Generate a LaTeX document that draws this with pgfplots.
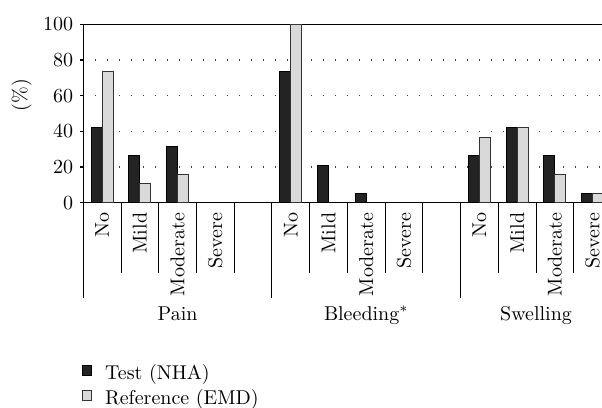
\documentclass[border=0pt]{standalone}
\usepackage{pgfplots}
\pgfplotsset{compat=1.18}
\definecolor{testc}{HTML}{232323}
\definecolor{refc}{HTML}{D9D9D9}
\pgfplotsset{sqlegend/.style={legend image code/.code={\draw[##1,line width=0.5pt] (0pt,-0.6pt) rectangle (4.7pt,4.1pt);}}}
\begin{document}
\begin{tikzpicture}
\begin{axis}[
  at={(0,0)}, anchor=south west,
  scale only axis, width=264.1pt, height=89.2pt,
  xmin=-0.5, xmax=13.5, ymin=0, ymax=100,
  ybar=0pt, bar width=5.5pt,
  every axis plot post/.append style={sqlegend},
  xtick={0,...,13},
  xticklabels={No,Mild,Moderate,Severe,,No,Mild,Moderate,Severe,,No,Mild,Moderate,Severe},
  x tick style={draw=none},
  xticklabel style={rotate=90, anchor=east},
  ytick={0,20,...,100},
  ytick pos=left, tick align=outside,
  major tick length=1.5pt,
  ymajorgrids,
  grid style={black!75, line width=0.6pt, dash pattern=on 0.6pt off 5.4pt},
  axis line style={line width=0.7pt},
  tick style={line width=0.7pt, black},
  ylabel={(\%)},
  ylabel style={at={(axis description cs:-0.1166,0.604)}, anchor=center},
  clip=false,
  legend cell align=left,
  legend style={at={(axis description cs:0,0)}, anchor=north west, xshift=-1pt, yshift=-80pt,
    draw=none, fill=none, inner sep=0pt, row sep=1.5pt, column sep=6pt,
    nodes={inner sep=0.5pt, text height=7.5pt, text depth=2.5pt}},
]
\addplot[fill=testc, draw=black, line width=0.5pt]
  coordinates {(0,42.1) (1,26.3) (2,31.6) (5,73.7) (6,21.1) (7,5.3) (10,26.3) (11,42.1) (12,26.3) (13,5.3)};
\addplot[fill=refc, draw=black!80, line width=0.5pt]
  coordinates {(0,73.7) (1,10.5) (2,15.8) (5,100) (10,36.8) (11,42.1) (12,15.8) (13,5.3)};
\legend{Test (NHA), Reference (EMD)}
% category separators
\draw[line width=0.5pt] (axis cs:0.5,0) -- ++(0pt,-35pt);
\draw[line width=0.5pt] (axis cs:1.5,0) -- ++(0pt,-35pt);
\draw[line width=0.5pt] (axis cs:2.5,0) -- ++(0pt,-35pt);
\draw[line width=0.5pt] (axis cs:3.5,0) -- ++(0pt,-35pt);
\draw[line width=0.5pt] (axis cs:5.5,0) -- ++(0pt,-35pt);
\draw[line width=0.5pt] (axis cs:6.5,0) -- ++(0pt,-35pt);
\draw[line width=0.5pt] (axis cs:7.5,0) -- ++(0pt,-35pt);
\draw[line width=0.5pt] (axis cs:8.5,0) -- ++(0pt,-35pt);
\draw[line width=0.5pt] (axis cs:10.5,0) -- ++(0pt,-35pt);
\draw[line width=0.5pt] (axis cs:11.5,0) -- ++(0pt,-35pt);
\draw[line width=0.5pt] (axis cs:12.5,0) -- ++(0pt,-35pt);
\draw[line width=0.5pt] (axis cs:-0.5,0) -- ++(0pt,-47.6pt);
\draw[line width=0.5pt] (axis cs:4.5,0) -- ++(0pt,-47.6pt);
\draw[line width=0.5pt] (axis cs:9.5,0) -- ++(0pt,-47.6pt);
\draw[line width=0.5pt] (axis cs:13.5,0) -- ++(0pt,-47.6pt);
% group labels
\node[anchor=base, yshift=-58.7pt, inner sep=0pt] at (axis cs:2,0) {Pain};
\node[anchor=base, yshift=-58.7pt, inner sep=0pt] at (axis cs:7,0) {Bleeding$^{*}$};
\node[anchor=base, yshift=-58.7pt, inner sep=0pt] at (axis cs:11.5,0) {Swelling};
\end{axis}
\pgfresetboundingbox
\path[use as bounding box] (-41.65pt,-102.65pt) rectangle (259.35pt,101.35pt);
\end{tikzpicture}
\end{document}
